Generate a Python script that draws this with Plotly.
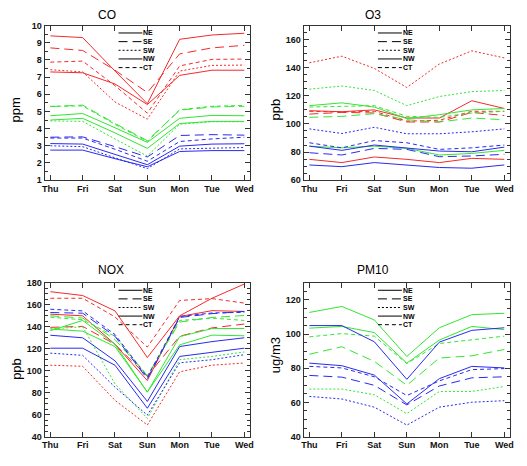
import plotly.graph_objects as go

days = ["Thu", "Fri", "Sat", "Sun", "Mon", "Tue", "Wed"]
sites = ["NE", "SE", "SW", "NW", "CT"]

# ---- CO (ppm) ----
co_red = {
    "NE": [9.4, 9.3, 7.35, 5.45, 9.2, 9.45, 9.55],
    "SE": [8.7, 8.55, 7.4, 6.1, 8.35, 8.7, 8.85],
    "SW": [7.43, 7.3, 5.55, 4.55, 7.35, 7.68, 7.7],
    "NW": [7.3, 7.25, 6.6, 5.4, 7.1, 7.4, 7.4],
    "CT": [7.87, 7.93, 6.5, 4.9, 7.65, 8.03, 8.05],
}
co_green = {
    "NE": [4.75, 4.88, 4.05, 3.2, 4.6, 4.77, 4.75],
    "SE": [5.28, 5.37, 4.3, 3.3, 5.07, 5.26, 5.3],
    "SW": [4.45, 4.42, 3.4, 2.4, 4.26, 4.4, 4.4],
    "NW": [4.5, 4.6, 3.75, 2.85, 4.3, 4.42, 4.42],
    "CT": [5.3, 5.32, 4.25, 3.25, 5.1, 5.3, 5.35],
}
co_blue = {
    "NE": [3.13, 3.1, 2.5, 1.9, 2.98, 3.1, 3.12],
    "SE": [3.5, 3.52, 2.95, 2.35, 3.6, 3.65, 3.62],
    "SW": [3.0, 2.95, 2.3, 1.67, 2.82, 2.88, 2.9],
    "NW": [2.75, 2.75, 2.25, 1.78, 2.67, 2.72, 2.72],
    "CT": [3.45, 3.45, 2.8, 2.1, 3.25, 3.4, 3.5],
}

# ---- O3 (ppb) ----
o3_red = {
    "NE": [109.4, 108.7, 110, 104.2, 104.2, 116.5, 111],
    "SE": [107, 108.2, 107.8, 101.4, 101.4, 108.2, 106],
    "SW": [143.5, 148.2, 139.5, 125.9, 142.6, 152, 147],
    "NW": [74.8, 72.5, 76.5, 74.8, 72.5, 75.5, 74.8],
    "CT": [109, 108.5, 109, 102, 102.6, 109, 109],
}
o3_green = {
    "NE": [113, 115, 112, 103.8, 106.6, 110, 111],
    "SE": [104.7, 105.4, 107.3, 103, 101.4, 104.2, 103],
    "SW": [124.7, 127, 123.8, 113, 119.5, 123, 123.8],
    "NW": [84.2, 83, 84.2, 82.6, 77.9, 79, 81.2],
    "CT": [112, 112.5, 113, 105.4, 104.7, 107.8, 109],
}
o3_blue = {
    "NE": [84.2, 81.2, 85, 82.6, 80.7, 80.2, 83.5],
    "SE": [79.5, 77.9, 82.6, 81.9, 76.7, 77.2, 78.4],
    "SW": [96.5, 93.2, 97.6, 93, 93, 94.4, 96.5],
    "NW": [70.8, 69.6, 72.5, 70.8, 69, 68.5, 70.8],
    "CT": [86.6, 83, 88.2, 86.6, 81.9, 83, 85],
}

# ---- NOX (ppb) ----
nox_red = {
    "NE": [172, 168.5, 154.5, 112, 150, 166, 179],
    "SE": [139.5, 140.4, 124, 94.9, 131.4, 139, 142.5],
    "SW": [105, 104, 73, 50.5, 99, 105, 107],
    "NW": [151.5, 150, 124, 91, 149.4, 154.7, 154],
    "CT": [166, 166, 149, 121.5, 164, 165.7, 161.6],
}
nox_green = {
    "NE": [136.5, 145.8, 124, 80.5, 131, 138.4, 138.4],
    "SE": [150, 148, 128.4, 95.5, 144.3, 148.5, 150.3],
    "SW": [138, 140, 88, 56.5, 110, 113, 117],
    "NW": [138, 136, 122, 80.5, 123.5, 132.4, 131.8],
    "CT": [148.8, 146.4, 131.4, 95.5, 145.8, 147.9, 145.8],
}
nox_blue = {
    "NE": [132.3, 130, 109, 72, 122, 126.5, 130],
    "SE": [153, 152.4, 131.4, 92.5, 148.5, 152, 154],
    "SW": [116, 114, 85, 59.5, 107.2, 110, 114.6],
    "NW": [120.5, 120.5, 105, 65.8, 113, 117, 120.5],
    "CT": [156, 154.5, 133, 94, 149.4, 152.6, 153.2],
}

# ---- PM10 (ug/m3) ----
pm10_green = {
    "NE": [112.7, 116.2, 108.3, 86.9, 103.7, 111.4, 112.2],
    "SE": [88.2, 92.6, 84, 70, 86, 87.3, 91],
    "SW": [67.8, 67.8, 64.5, 53.4, 66.4, 66.4, 69.3],
    "NW": [103.5, 104.5, 100.9, 83, 96.5, 104.5, 102.6],
    "CT": [98.4, 100.3, 98.8, 82.7, 94.5, 96.8, 98.8],
}
pm10_blue = {
    "NE": [105, 105, 95.5, 73.5, 95.3, 102.2, 103.7],
    "SE": [75.8, 74.8, 70, 58.5, 69.6, 74.4, 75],
    "SW": [63.5, 62, 57.2, 46.7, 57.2, 60.1, 61],
    "NW": [83, 81.5, 76, 59.1, 73.9, 81.1, 80.2],
    "CT": [81.1, 80.2, 75, 64, 72.6, 79.2, 79.8],
}

panel_titles = ["CO", "O3", "NOX", "PM10"]
unit_labels = ["ppm", "ppb", "ppb", "ug/m3"]
y_ranges = [[1, 10], [60, 170], [40, 180], [40, 130]]
y_dticks = [1, 20, 20, 20]

RED, GREEN, BLUE = "#f52a2a", "#33e633", "#2a2af0"
dash_style = {"NE": "solid", "SE": "9px,5px", "SW": "2px,2px", "NW": "solid", "CT": "4px,3px"}

panels = [
    [(RED, co_red), (GREEN, co_green), (BLUE, co_blue)],
    [(RED, o3_red), (GREEN, o3_green), (BLUE, o3_blue)],
    [(RED, nox_red), (GREEN, nox_green), (BLUE, nox_blue)],
    [(GREEN, pm10_green), (BLUE, pm10_blue)],
]

W, H = 527, 466
xdoms = [[43 / W, 251 / W], [305 / W, 514 / W], [43 / W, 251 / W], [305 / W, 514 / W]]
ydoms = [[1 - 179 / H, 1 - 21 / H], [1 - 179 / H, 1 - 21 / H],
         [1 - 441 / H, 1 - 284 / H], [1 - 441 / H, 1 - 284 / H]]

FONT = "Liberation Sans, Arial, sans-serif"
fig = go.Figure()
tickfont = dict(family=FONT, size=9, color="#111111", weight="bold")

for i, groups in enumerate(panels):
    sfx = "" if i == 0 else str(i + 1)
    for color, data in groups:
        for s in sites:
            fig.add_trace(go.Scatter(
                x=days, y=data[s], mode="lines", name=s, showlegend=False,
                line=dict(color=color, width=1, dash=dash_style[s]),
                xaxis="x" + sfx, yaxis="y" + sfx,
            ))
    common = dict(showline=True, linecolor="#333333", linewidth=1, mirror="allticks",
                  ticks="inside", ticklen=5, tickwidth=1, tickcolor="#333333",
                  showgrid=False, zeroline=False, tickfont=tickfont)
    fig.update_layout({
        "xaxis" + sfx: dict(domain=xdoms[i], anchor="y" + sfx, type="category",
                            range=[-0.18, 6.18], **common),
        "yaxis" + sfx: dict(domain=ydoms[i], anchor="x" + sfx, range=y_ranges[i],
                            dtick=y_dticks[i], tick0=0,
                            minor=dict(ticks="inside", ticklen=3, tickcolor="#333333",
                                       nticks=5 if y_dticks[i] == 20 else 3),
                            **common),
    })
    # legend drawn inside each panel (black key lines + labels)
    xr, yr = "x" + sfx + " domain", "y" + sfx + " domain"
    for k, s in enumerate(sites):
        yy = 0.952 - k * 0.056
        fig.add_shape(type="line", xref=xr, yref=yr, x0=0.36, x1=0.476, y0=yy, y1=yy,
                      line=dict(color="black", width=1, dash=dash_style[s]))
        fig.add_annotation(xref=xr, yref=yr, x=0.476, y=yy, text=s, showarrow=False,
                           xanchor="left", yanchor="middle", borderpad=0,
                           font=dict(family=FONT, size=7, color="black", weight="bold"))

title_pos = [(106, 10), (375, 10), (110, 271), (375, 271)]
ytitle_pos = [(14, 107), (277, 107), (14, 372), (276, 358)]
for i in range(4):
    tx, ty = title_pos[i]
    fig.add_annotation(xref="paper", yref="paper", x=tx / W, y=1 - ty / H,
                       text=panel_titles[i], showarrow=False,
                       xanchor="center", yanchor="middle",
                       font=dict(family=FONT, size=12, color="black"))
    ux, uy = ytitle_pos[i]
    fig.add_annotation(xref="paper", yref="paper", x=ux / W, y=1 - uy / H,
                       text=unit_labels[i], showarrow=False, textangle=-90,
                       xanchor="center", yanchor="middle",
                       font=dict(family=FONT, size=13, color="black"))

fig.update_layout(width=W, height=H, margin=dict(l=0, r=0, t=0, b=0),
                  paper_bgcolor="white", plot_bgcolor="white", showlegend=False)

fig.write_html("out.html")
